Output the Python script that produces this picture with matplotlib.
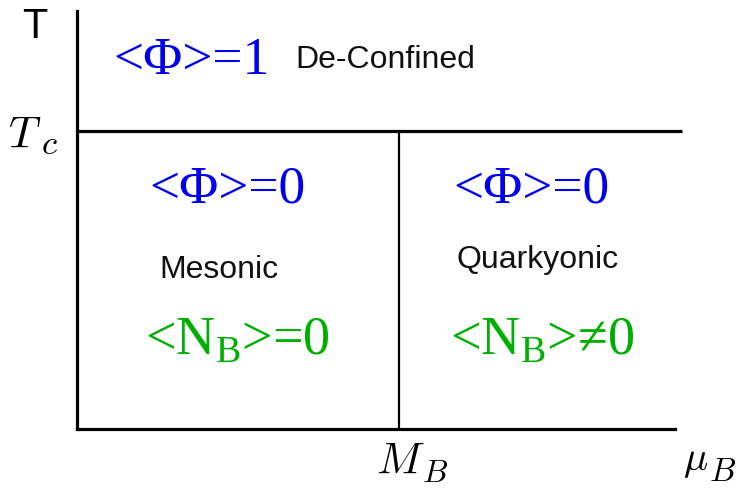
import matplotlib
matplotlib.use("Agg")
import matplotlib.pyplot as plt

# phase boundaries (fraction of the axis range)
T_c = 0.713          # deconfinement temperature
M_B = 0.538          # baryon mass on the mu_B axis
TC_LINE_END = 1.012  # Tc line runs a bit past the axis end

# region labels: (text, x, baseline y)
blue_labels = [
    ("<\u03a6>=1", 0.191, 0.852),
    ("<\u03a6>=0", 0.252, 0.545),
    ("<\u03a6>=0", 0.760, 0.545),
]
green_labels = [
    (r"<N$_{\rm B}$>=0", 0.268, 0.181),
    (r"<N$_{\rm B}$>" + "\u2260" + "0", 0.778, 0.181),
]
phase_names = [
    ("De-Confined", 0.516, 0.866),
    ("Mesonic", 0.237, 0.364),
    ("Quarkyonic", 0.771, 0.388),
]
# math axis labels, main symbol and subscript drawn separately
# (text, x, baseline y, fontsize)
math_labels = [
    (r"$T$", -0.088, 0.675, 32),
    (r"$c$", -0.046, 0.660, 25),
    (r"$M$", 0.540, -0.106, 32),
    (r"$B$", 0.599, -0.124, 23),
    (r"$\mu$", 1.034, -0.096, 29),
    (r"$B$", 1.079, -0.122, 24),
]

plt.rcParams['mathtext.fontset'] = 'custom'
plt.rcParams['mathtext.rm'] = 'Liberation Serif'

fig = plt.figure(figsize=(7.4, 4.89), dpi=100)
ax = fig.add_axes([77 / 740, 59 / 489, 598 / 740, 418 / 489])
ax.set_xlim(0, 1)
ax.set_ylim(0, 1)
for s in ['top', 'right']:
    ax.spines[s].set_visible(False)
for s in ['left', 'bottom']:
    ax.spines[s].set_linewidth(2.3)
    ax.spines[s].set_capstyle('projecting')
ax.set_xticks([])
ax.set_yticks([])

ax.plot([0, TC_LINE_END], [T_c, T_c], color='black', lw=2.3, clip_on=False,
        solid_capstyle='butt')
ax.plot([M_B, M_B], [0, T_c], color='black', lw=1.6, solid_capstyle='butt')

for txt, x, y in blue_labels:
    ax.text(x, y, txt, color='#0000f0', fontsize=38.5, family='Liberation Serif',
            ha='center', va='baseline')
for txt, x, y in green_labels:
    ax.text(x, y, txt, color='#00b000', fontsize=39, family='Liberation Serif',
            ha='center', va='baseline', math_fontfamily='custom')
for txt, x, y in phase_names:
    ax.text(x, y, txt, color='#111111', fontsize=23, family='Liberation Sans',
            ha='center', va='baseline')

# axis labels
ax.text(-0.070, 0.938, "T", fontsize=30, family='Liberation Sans',
        ha='center', va='baseline', clip_on=False)
for txt, x, y, fs in math_labels:
    ax.text(x, y, txt, fontsize=fs, math_fontfamily='cm',
            ha='center', va='baseline', clip_on=False)

fig.savefig("out.png", dpi=100)
